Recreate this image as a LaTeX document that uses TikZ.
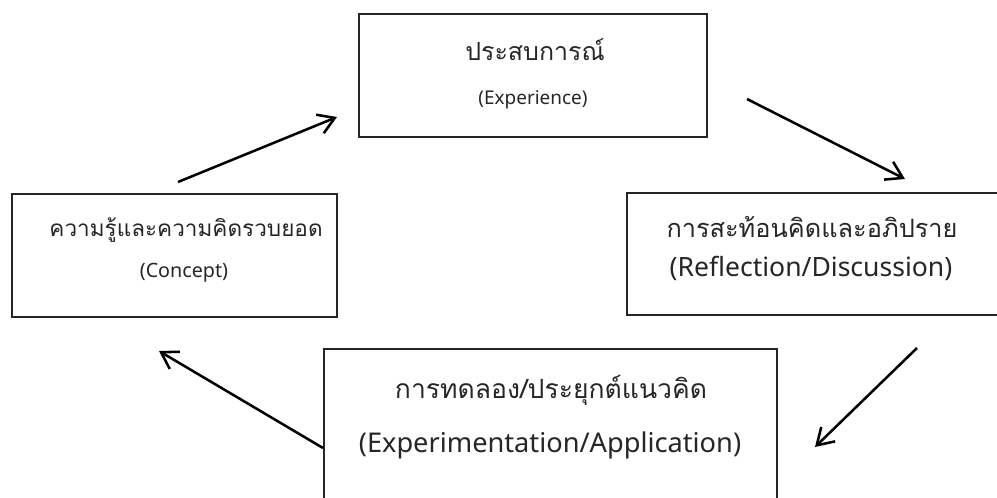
\documentclass[tikz,border=0pt]{standalone}
\usepackage{fontspec}
\setmainfont{Noto Sans}
\newfontfamily\thaifont[Script=Thai]{Loma}
\usetikzlibrary{arrows.meta}

\tikzset{
  stagebox/.style={draw=black!85, line width=1.1pt, fill=white, inner sep=0pt},
  flow/.style={line width=1.9pt, -{Straight Barb[length=12pt,width=15pt,line width=1.9pt]}},
  lbl/.style={inner sep=0pt, text=black!85},
}

\begin{document}
\begin{tikzpicture}[x=0.75pt, y=-0.75pt]
\useasboundingbox (0,0) rectangle (997,497);
\clip (0,0) rectangle (997,497);

% stage boxes (corner to corner, in pixel units)
\draw[stagebox] (359,14) rectangle (707,137);
\draw[stagebox] (12,194) rectangle (337,317);
\draw[stagebox] (627,193) rectangle (1010,315);
\draw[stagebox] (324,349) rectangle (777,520);

% labels
\node[lbl, font=\thaifont\fontsize{18.7}{21}\selectfont] (expTh) at (535,50) {ประสบการณ์};
\node[lbl, font=\fontsize{14.2}{16}\selectfont] (expEn) at (533,100) {(Experience)};

\node[lbl, font=\thaifont\fontsize{16.9}{19}\selectfont] (conTh) at (186,230) {ความรู้และความคิดรวบยอด};
\node[lbl, font=\fontsize{14.8}{17}\selectfont] (conEn) at (184,273) {(Concept)};

\node[lbl, font=\thaifont\fontsize{19}{21}\selectfont] (refTh) at (812,227) {การสะท้อนคิดและอภิปราย};
\node[lbl, font=\fontsize{19.9}{22}\selectfont] (refEn) at (811,268) {(Reflection/Discussion)};

\node[lbl, font=\thaifont\fontsize{19.9}{22}\selectfont] (appTh) at (551,390) {การทดลอง/ประยุกต์แนวคิด};
\node[lbl, font=\fontsize{20.4}{23}\selectfont] (appEn) at (550,445) {(Experimentation/Application)};

% cycle arrows
\coordinate (a1s) at (178,182);  \coordinate (a1e) at (337,117);
\coordinate (a2s) at (747,99);   \coordinate (a2e) at (905,179);
\coordinate (a3s) at (917,348);  \coordinate (a3e) at (815,447);
\coordinate (a4s) at (323,448);  \coordinate (a4e) at (159,351);

\draw[flow] (a1s) -- (a1e);
\draw[flow] (a2s) -- (a2e);
\draw[flow] (a3s) -- (a3e);
\draw[flow] (a4s) -- (a4e);
\end{tikzpicture}
\end{document}
